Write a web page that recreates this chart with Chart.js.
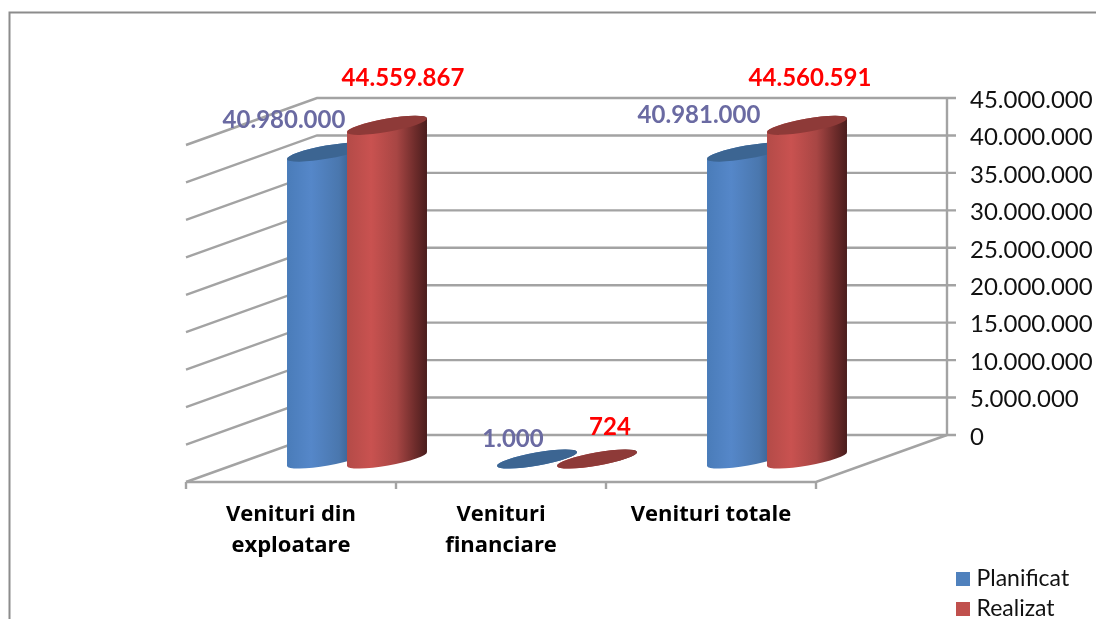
<!DOCTYPE html>
<html>
<head>
<meta charset="utf-8">
<style>html,body{margin:0;padding:0;background:#fff;overflow:hidden}canvas{display:block}</style>
<script src="https://cdn.jsdelivr.net/npm/chart.js@4"></script>
</head>
<body>
<canvas id="c" width="1096" height="619"></canvas>
<script>
const categories = [['Venituri din','exploatare'],['Venituri','financiare'],'Venituri totale'];
const planificat = [40980000, 1000, 40981000];
const realizat = [44559867, 724, 44560591];
const seriesNames = ['Planificat','Realizat'];
const yMax = 45000000;
const yStep = 5000000;

const FONT = 'Lato, Carlito, sans-serif';
const DEPTH_X = 131, DEPTH_Y = 47;          // 3D wall depth
const SHIFT_X = 56, SHIFT_Y = 24;           // bars stand mid-floor
const GRID = '#a3a3a3';
const LABEL_COLORS = ['#6a6aa2','#ff0000'];
const LABEL_OFFSETS = [                      // label centre relative to bar top
  [[-43,-32],[-24,-20],[-48,-37]],
  [[16,-47],[13,-32],[3,-47]]
];
const THEME = [
  {base:'#4f81bd', top:'#3c6592', stops:[[0,'#4a7cb9'],[.3,'#5587c9'],[.65,'#4a77ae'],[1,'#25456c']]},
  {base:'#c0504d', top:'#8e3a38', stops:[[0,'#b44b48'],[.3,'#c95250'],[.62,'#a84644'],[.85,'#6e2c2b'],[1,'#4a1d1d']]}
];
const fmt = v => String(v).replace(/\B(?=(\d{3})+(?!\d))/g,'.');
const RX = 40.6, RY = 6.6, ROT = -10 * Math.PI/180;

const walls = {
  id:'walls',
  beforeDraw(c){
    const x = c.ctx; x.save();
    x.strokeStyle='#8c8c8c'; x.lineWidth=2;
    x.beginPath(); x.moveTo(9.5,619); x.lineTo(9.5,12.5); x.lineTo(1096,12.5); x.stroke();
    x.restore();
  },
  beforeDatasetsDraw(c){
    const x=c.ctx, a=c.chartArea, ys=c.scales.y, xs=c.scales.x;
    const L=a.left, R=a.right, B=a.bottom+DEPTH_Y;
    x.save(); x.strokeStyle=GRID; x.lineWidth=2.4;
    ys.ticks.forEach(t=>{
      const y=ys.getPixelForValue(t.value);
      x.beginPath(); x.moveTo(L,y+DEPTH_Y); x.lineTo(L+DEPTH_X,y); x.lineTo(R+DEPTH_X+9,y); x.stroke();
    });
    x.beginPath(); x.moveTo(R+DEPTH_X,a.top); x.lineTo(R+DEPTH_X,a.bottom); x.stroke();
    x.beginPath(); x.moveTo(L,B); x.lineTo(R,B); x.lineTo(R+DEPTH_X,a.bottom); x.stroke();
    const step=(R-L)/xs.ticks.length;
    for(let i=0;i<=xs.ticks.length;i++){
      x.beginPath(); x.moveTo(L+i*step,B); x.lineTo(L+i*step,B+7); x.stroke();
    }
    x.restore();
  },
  // Each bar element is rendered as a cylinder below, from the element's own scaled geometry.
  beforeDatasetDraw(){ return false; },
  afterDatasetsDraw(c){
    const x=c.ctx;
    x.save(); x.translate(SHIFT_X,SHIFT_Y);
    c.data.datasets.forEach((d,i)=>{
      const th=THEME[i];
      c.getDatasetMeta(i).data.forEach(el=>{
        const w=el.width*4/3, left=el.x-el.width/2, cx=left+w/2;
        const g=x.createLinearGradient(left,0,left+w,0);
        th.stops.forEach(s=>g.addColorStop(s[0],s[1]));
        x.fillStyle=g;
        x.beginPath();
        x.ellipse(cx,el.base,RX,RY,ROT,Math.PI,0,true);
        x.ellipse(cx,el.y,RX,RY,ROT,0,Math.PI,true);
        x.closePath(); x.fill();
        x.fillStyle=th.top;
        x.beginPath(); x.ellipse(cx,el.y,RX,RY,ROT,0,Math.PI*2); x.fill();
      });
    });
    x.restore();
    x.save();
    x.font='bold 24px '+FONT; x.textAlign='center'; x.textBaseline='middle';
    c.data.datasets.forEach((d,i)=>{
      x.fillStyle=LABEL_COLORS[i];
      c.getDatasetMeta(i).data.forEach((el,j)=>{
        const cx=el.x-el.width/2+el.width*2/3+SHIFT_X, o=LABEL_OFFSETS[i][j];
        x.fillText(fmt(d.data[j]),cx+o[0],el.y+SHIFT_Y+o[1]);
      });
    });
    x.restore();
  },
  afterLayout(c){
    const l=c.legend;
    if(l){ l.left=954; l.top=560.5; l.right=1096; l.bottom=800; }
    const s=c.scales.y;
    s.getLabelItems(c.chartArea).forEach(i=>{ i.options.translation[1]+=2; });
  }
};
const noPad = s => { s.paddingTop=0; s.paddingBottom=0; s.paddingLeft=0; s.paddingRight=0; };

new Chart(document.getElementById('c'),{
  type:'bar',
  data:{labels:categories,datasets:[
    {label:seriesNames[0],data:planificat,backgroundColor:THEME[0].base,barThickness:60,clip:false},
    {label:seriesNames[1],data:realizat,backgroundColor:THEME[1].base,barThickness:60,clip:false}
  ]},
  plugins:[walls],
  options:{
    responsive:false,animation:false,
    layout:{padding:{left:186,top:98,right:0,bottom:0}},
    plugins:{
      tooltip:{enabled:false},
      legend:{
        position:'chartArea',align:'start',
        labels:{
          boxWidth:4,boxHeight:4,padding:7,color:'#111',
          font:{family:FONT,size:23},
          generateLabels:c=>Chart.defaults.plugins.legend.labels.generateLabels(c).map(i=>({...i,lineWidth:10,strokeStyle:i.fillStyle}))
        }
      }
    },
    scales:{
      x:{
        afterFit:s=>{s.height=184;noPad(s);},
        grid:{display:false,drawTicks:false},border:{display:false},
        ticks:{color:'#000',padding:64,maxRotation:0,autoSkip:false,font:{family:'"Open Sans"',size:22,weight:'bold',lineHeight:1.41}}
      },
      y:{
        position:'right',min:0,max:yMax,
        afterFit:s=>{s.width=280;noPad(s);},
        grid:{display:false,drawTicks:false},border:{display:false},
        ticks:{stepSize:yStep,autoSkip:false,color:'#111',padding:154,font:{family:FONT,size:24},callback:v=>fmt(v)}
      }
    }
  }
});
</script>
</body>
</html>
